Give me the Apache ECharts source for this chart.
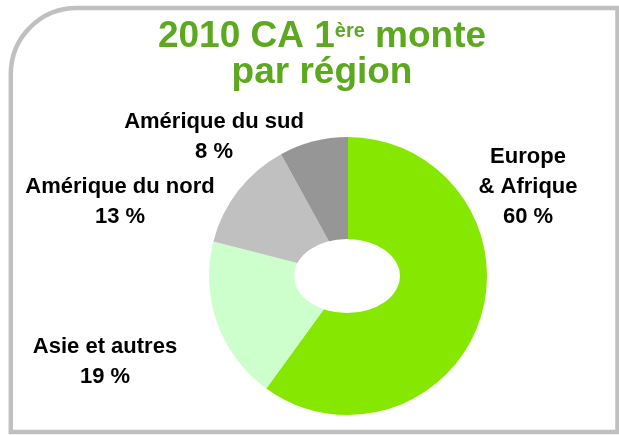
<!DOCTYPE html>
<html>
<head>
<meta charset="utf-8">
<script src="https://cdn.jsdelivr.net/npm/echarts@6/dist/echarts.min.js"></script>
<style>
  html, body { margin: 0; padding: 0; background: #fff; }
  #chart { width: 619px; height: 435px; }
</style>
</head>
<body>
<div id="chart"></div>
<script>
// chiffre d'affaires 1ere monte par region (en %)
var regions = ['Europe\n& Afrique', 'Asie et autres', 'Amérique du nord', 'Amérique du sud'];
var shares = [60, 19, 13, 8];
var sliceColors = ['#86E800', '#CCFFCC', '#C0C0C0', '#969696'];
// label centres, one per slice
var labelPos = [[528, 187], [105, 362], [120, 202], [214, 137]];

var dom = document.getElementById('chart');
var myChart = echarts.init(dom);

var pieData = [];
for (var i = 0; i < regions.length; i++) {
    pieData.push({ name: regions[i], value: shares[i], itemStyle: { color: sliceColors[i] } });
}

var option = {
    animation: false,
    backgroundColor: '#fff',
    graphic: [{
        // cadre
        type: 'rect',
        z: 1,
        shape: { x: 10.8, y: 8, width: 606.7, height: 424, r: [66, 0, 0, 0] },
        style: { fill: 'none', stroke: '#C0C0C0', lineWidth: 4.5 }
    }, {
        type: 'text',
        z: 5,
        x: 322,
        y: 19,
        style: {
            text: '{m|2010 CA 1}{sup|ère}{m| monte}\n{m|par région}',
            align: 'center',
            verticalAlign: 'top',
            fill: '#5CA81E',
            rich: {
                m: { fontSize: 37, fontWeight: 'bold', fontFamily: 'Liberation Sans', lineHeight: 36, fill: '#5CA81E' },
                sup: { fontSize: 20, fontWeight: 'bold', fontFamily: 'Liberation Sans', lineHeight: 20, verticalAlign: 'top', padding: [2, 0, 0, 0], fill: '#5CA81E' }
            }
        }
    }, {
        // trou du donut (ellipse)
        type: 'circle',
        z: 50,
        x: 347,
        y: 276,
        scaleX: 1.43,
        shape: { cx: 0, cy: 0, r: 37 },
        style: { fill: '#fff' }
    }],
    series: [{
        name: 'CA',
        type: 'pie',
        center: [348, 276],
        radius: [0, 139],
        startAngle: 90,
        clockwise: true,
        avoidLabelOverlap: false,
        itemStyle: { borderWidth: 0 },
        emphasis: { disabled: true },
        label: {
            show: true,
            position: 'outside',
            formatter: '{b}\n{c} %',
            color: '#000',
            fontFamily: 'Liberation Sans',
            fontWeight: 'bold',
            fontSize: 22,
            lineHeight: 30,
            align: 'center'
        },
        labelLine: { show: false },
        labelLayout: function (params) {
            var p = labelPos[params.dataIndex];
            return { x: p[0], y: p[1], align: 'center', verticalAlign: 'middle' };
        },
        data: pieData
    }]
};

myChart.setOption(option);
</script>
</body>
</html>
